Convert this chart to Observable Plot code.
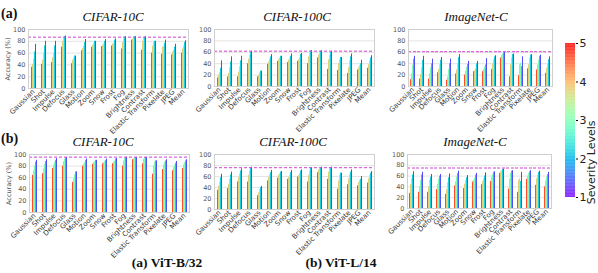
<!DOCTYPE html>
<html><head><meta charset="utf-8">
<script src="https://cdn.jsdelivr.net/npm/d3@7"></script>
<script src="https://cdn.jsdelivr.net/npm/@observablehq/plot@0.6"></script>
<style>
body{margin:0;background:#fff;}
#wrap{position:relative;width:598px;height:273px;overflow:hidden;background:#fff;}
.title{font-family:"Liberation Serif",serif;font-style:italic;font-size:13px;line-height:13px;white-space:nowrap;transform:translateX(-50%);color:#111;}
.tag{font-family:"Liberation Serif",serif;font-weight:bold;font-size:14px;line-height:14px;color:#111;}
.cap{font-family:"Liberation Serif",serif;font-weight:bold;font-size:13.5px;line-height:13.5px;transform:translateX(-50%);white-space:nowrap;color:#111;}
</style></head><body><div id="wrap"></div>
<script>
const categories = ["Gaussian","Shot","Impulse","Defocus","Glass","Motion","Zoom","Snow","Frost","Fog","Brightness","Contrast","Elastic Transform","Pixelate","JPEG","Mean"];
const severityOrder = [5,4,3,2,1]; // bar order inside each group (left to right)
const severityTicks = [1,2,3,4,5];
const yTicks = [0,20,40,60,80,100];
const datasets = ["CIFAR-10C","CIFAR-100C","ImageNet-C"];
const models = ["(a) ViT-B/32","(b) ViT-L/14"];

// accuracy (%) per category, values in severityOrder
const b32Cifar10 = [[36,41,50,62,75],[41,48,60,72,80],[44,52,60,72,80],[70,80,85,88,89],[42,48,52,55,55],[64,68,72,78,83],[70,73,77,80,80],[71,73,76,80,83],[72,75,77,82,84],[67,78,84,87,88],[82,84,86,88,88],[65,80,85,87,88],[60,72,78,80,80],[58,70,72,77,82],[57,62,65,70,75],[60,67,72,78,81]];
const b32Cifar100 = [[15,20,25,32,45],[17,23,33,43,52],[17,25,35,45,53],[40,48,55,60,62],[17,20,24,27,27],[39,43,48,52,56],[44,47,50,53,53],[42,46,50,53,57],[44,47,50,56,58],[40,52,58,62,63],[50,55,58,62,63],[30,47,55,60,62],[28,40,47,51,51],[23,33,45,52,57],[29,33,37,40,46],[32,38,45,50,54]];
const b32ImageNet = [[12,22,37,48,53],[13,21,33,46,53],[13,23,33,40,48],[24,30,38,46,51],[11,17,30,40,48],[22,29,40,51,56],[20,27,33,39,44],[26,28,31,40,44],[26,30,34,38,49],[30,40,47,52,54],[50,54,57,59,60],[17,38,50,56,57],[19,38,41,35,52],[31,38,50,55,56],[29,38,46,53,55],[23,32,40,47,52]];
const l14Cifar10 = [[64,72,80,87,90],[67,75,83,88,91],[76,82,87,90,93],[80,88,92,94,95],[52,58,65,70,70],[80,83,86,90,92],[83,86,88,90,90],[84,86,88,90,92],[84,87,89,92,93],[80,89,93,95,95],[91,93,94,95,95],[84,92,94,95,95],[66,80,87,89,89],[74,82,87,89,91],[72,78,82,85,88],[76,82,86,89,91]];
const l14Cifar100 = [[35,42,50,58,64],[38,46,55,63,68],[50,58,65,70,74],[50,62,70,75,77],[25,30,36,40,42],[52,58,63,67,71],[57,62,65,68,69],[55,58,62,67,71],[59,62,65,70,72],[50,62,70,75,76],[67,72,74,76,77],[55,68,74,76,77],[37,52,62,66,66],[45,56,64,68,72],[43,49,53,55,60],[48,56,62,66,69]];
const l14ImageNet = [[28,44,55,62,68],[30,40,52,62,67],[30,40,52,58,63],[35,45,55,60,63],[26,35,48,57,64],[42,50,58,65,69],[37,45,52,57,61],[49,52,56,62,65],[44,50,55,60,66],[50,58,63,67,68],[65,68,70,72,73],[36,55,65,69,70],[30,52,55,50,67],[54,60,65,68,70],[43,55,62,67,69],[40,51,58,63,67]];
const cleanB32 = [87,62,61];
const cleanL14 = [95.5,76,75];
const colorbarLabel = "Severity Levels";

// matplotlib "rainbow" colormap
function rainbow(t){
  const r = Math.min(1, Math.abs(2*t - 0.5)), g = Math.max(0, Math.sin(Math.PI*t)), b = Math.max(0, Math.cos(Math.PI*t/2));
  return `rgb(${Math.round(r*255)},${Math.round(g*255)},${Math.round(b*255)})`;
}

const wrap = document.getElementById("wrap");
function place(el, left, top){ el.style.position="absolute"; el.style.left=left+"px"; el.style.top=top+"px"; wrap.appendChild(el); }
function addText(cls, txt, left, baseline, fs){ const d=document.createElement("div"); d.className=cls; d.textContent=txt; place(d, left, baseline - 0.84*fs); }

function panel(vals, clean, g){
  const data = [];
  categories.forEach((c,i)=> severityOrder.forEach((s,j)=> data.push({cat:c, sev:s, acc:vals[i][j]})));
  const ml = g.label ? 26 : 22, mt = 6, mr = 4, mb = 62;
  const chart = Plot.plot({
    width: g.w + ml + mr, height: g.h + mt + mb,
    marginLeft: ml, marginTop: mt, marginRight: mr, marginBottom: mb,
    style: {background:"transparent", overflow:"visible", fontFamily:"'DejaVu Sans', sans-serif", fontSize:"7px"},
    fx: {domain: categories, padding: 0, label: null},
    x: {domain: severityOrder, paddingInner: 0.1, paddingOuter: 0.55, axis: null},
    y: {domain: [0,100]},
    color: {type:"linear", domain:[0.5,5.5], interpolate: rainbow},
    marks: [
      Plot.gridY(yTicks, {stroke:"#e4e4e4", strokeOpacity:1}),
      Plot.barY(data, {fx:"cat", x:"sev", y:"acc", fill:"sev"}),
      Plot.ruleY([clean], {stroke:"#d43fd4", strokeDasharray:"3,2", strokeWidth:1}),
      Plot.frame({facet:"super", stroke:"#cfcfcf"}),
      Plot.axisY(yTicks, {tickSize:0, tickPadding:3, fill:"#555", fontSize:6.5, label: g.label ? "Accuracy (%)" : null, labelAnchor:"center", labelOffset:23, labelArrow:"none"}),
      Plot.axisFx({anchor:"bottom", tickRotate:-45, tickSize:0, tickPadding:2, fill:"#333", fontSize:7, label:null})
    ]
  });
  place(chart, g.x - ml, g.y - mt);
}

const geom = [
  [{x:24,y:29,w:167,h:59,label:true},{x:212,y:29,w:163,h:57},{x:402,y:29,w:156,h:57}],
  [{x:25,y:154,w:168,h:58,label:true},{x:212,y:154,w:163,h:55},{x:400,y:154,w:157,h:54}]
];
const rows = [[b32Cifar10,b32Cifar100,b32ImageNet],[l14Cifar10,l14Cifar100,l14ImageNet]];
const cleans = [cleanB32, cleanL14];
rows.forEach((r,ri)=> r.forEach((v,ci)=> panel(v, cleans[ri][ci], geom[ri][ci])));

// titles and tags
const titleX = [[113,297,476],[103,293,475]];
const titleBase = [21,146];
titleX.forEach((xs,ri)=> xs.forEach((x,ci)=> addText("title", datasets[ci], x, titleBase[ri], 13)));
addText("tag", "(a)", 1, 19, 14);
addText("tag", "(b)", 1, 144, 14);
addText("cap", models[0], 167, 267, 13.5);
addText("cap", models[1], 341, 267, 13.5);

// colorbar
const cbSteps = d3.range(1, 5, 0.02);
const cb = Plot.plot({
  width: 10 + 28, height: 154 + 10, marginLeft: 0, marginRight: 28, marginTop: 5, marginBottom: 5,
  style: {background:"transparent", overflow:"visible", fontFamily:"'DejaVu Sans', sans-serif", fontSize:"11px"},
  y: {domain:[1,5]},
  color: {type:"linear", domain:[1,5], interpolate: rainbow},
  marks: [
    Plot.rect(cbSteps, {y1: d=>d, y2: d=>Math.min(5, d+0.021), fill: d=>d+0.01}),
    Plot.axisY(severityTicks, {anchor:"right", tickSize:2, tickPadding:2, fill:"#222", fontSize:11, label:null}),
    Plot.text([colorbarLabel], {frameAnchor:"right", rotate:-90, dx:16, fontSize:11, fill:"#222"})
  ]
});
place(cb, 565, 38);
</script></body></html>
